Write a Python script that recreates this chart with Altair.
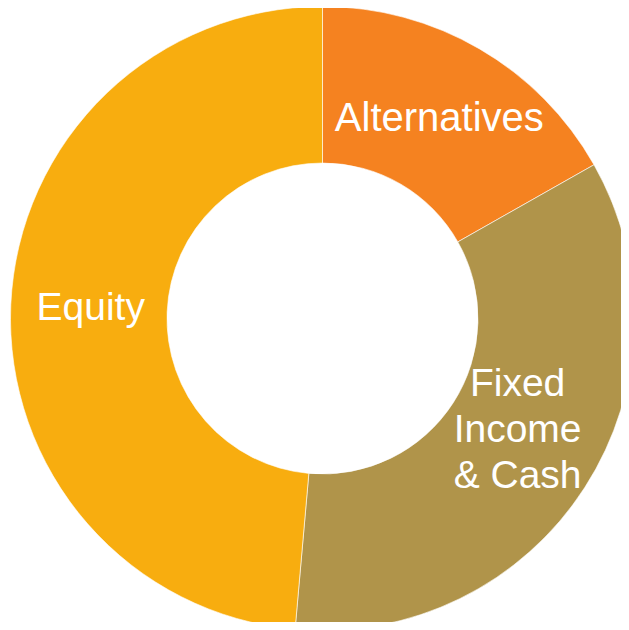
import altair as alt
import pandas as pd

categories = ["Alternatives", "Fixed Income & Cash", "Equity"]
labels = ["Alternatives", "Fixed\nIncome\n& Cash", "Equity"]
values = [16.8, 34.6, 48.6]
colors = ["#F58220", "#B0944A", "#F8AD0F"]
order_idx = [0, 1, 2]

df = pd.DataFrame({
    "category": categories,
    "label": labels,
    "value": values,
    "idx": order_idx,
})

cx, cy = 314.5, 310.5

theta = alt.Theta("value:Q", stack=True, scale=alt.Scale(domain=[0, 100]))
color = alt.Color("category:N", scale=alt.Scale(domain=categories, range=colors), legend=None)
order = alt.Order("idx:Q", sort="ascending")

base = alt.Chart(df)

arcs = base.mark_arc(
    innerRadius=155.5, outerRadius=312, stroke="white", strokeWidth=0.6
).encode(
    theta=theta, color=color, order=order,
    x=alt.value(cx), y=alt.value(cy),
)


def label_layer(cat, size, dy):
    return base.transform_calculate(
        t=f"datum.category == '{cat}' ? datum.label : ''"
    ).mark_text(
        radius=232, font="Liberation Sans", fontSize=size, color="white",
        align="center", baseline="middle", lineBreak="\n", lineHeight=46,
        dy=dy,
    ).encode(
        theta=theta, order=order, text="t:N",
        x=alt.value(cx), y=alt.value(cy),
    )


chart = alt.layer(
    arcs,
    label_layer("Alternatives", 40, 1),
    label_layer("Equity", 39, 0),
    label_layer("Fixed Income & Cash", 39, -60),
).properties(
    width=613, height=614,
    autosize=alt.AutoSizeParams(type="none"),
    padding=0,
    background="white",
).configure_view(stroke=None)

chart.save("out.html", embed_options={"renderer": "svg", "actions": False})
